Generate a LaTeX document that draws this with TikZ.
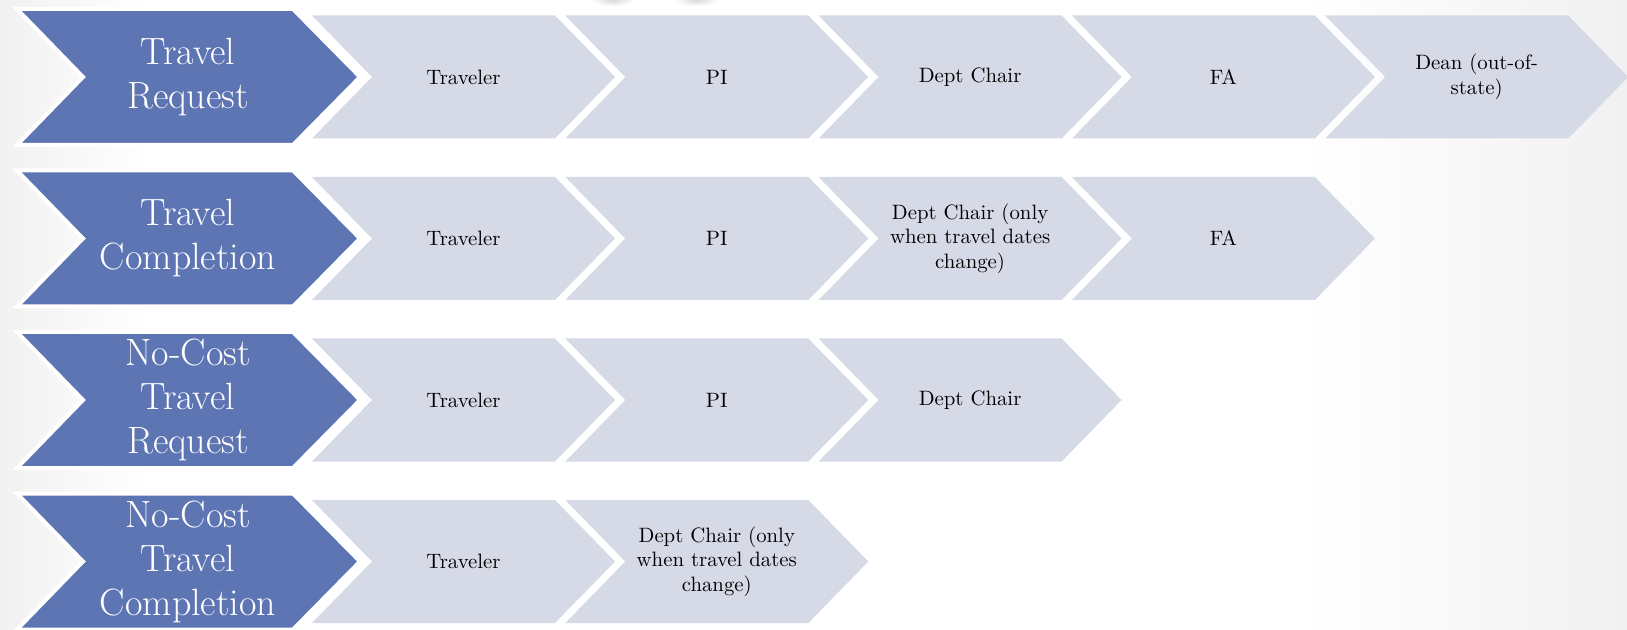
\documentclass[tikz,border=0pt]{standalone}
\definecolor{bluefill}{RGB}{94,117,179}
\definecolor{lightfill}{RGB}{214,218,231}
\definecolor{bggrey}{RGB}{241,241,241}
\newcommand{\stepchevron}[2]{%
  \path[stepchev] (#1,#2-61.5) -- (#1+243,#2-61.5) -- (#1+303,#2) -- (#1+243,#2+61.5) -- (#1,#2+61.5) -- (#1+60,#2) -- cycle;}
\newcommand{\headchevron}[1]{%
  \path[headchev] (17,#1-68) -- (293,#1-68) -- (360,#1) -- (293,#1+68) -- (17,#1+68) -- (83,#1) -- cycle;}
\begin{document}
\begin{tikzpicture}[x=0.5pt,y=-0.5pt,
  headtext/.style={text=white, font=\fontsize{19}{22}\selectfont, align=center, inner sep=0pt},
  steptext/.style={text=black, font=\fontsize{10.4}{12.2}\selectfont, align=center, inner sep=0pt},
  headchev/.style={fill=bluefill, draw=white, line width=2pt, line join=miter},
  stepchev/.style={fill=lightfill, draw=none}]
\useasboundingbox (0,0) rectangle (1627,630);
% background
\fill[white] (0,0) rectangle (1627,630);
\shade[left color=bggrey, right color=white] (0,0) rectangle (150,630);
\shade[left color=white, right color=bggrey] (1300,0) rectangle (1627,630);
\shade[inner color=gray!30, outer color=white] (613,0) ellipse (22 and 6);
\shade[inner color=gray!30, outer color=white] (697,0) ellipse (22 and 6);
% Row 1
\foreach \L in {312,565.3,818.6,1071.9,1325.2} {\stepchevron{\L}{77}}
\headchevron{77}
\node[headtext] (h1) at (188,77) {Travel\\Request};
\node[steptext] (r1a) at (463.5,77) {Traveler};
\node[steptext] (r1b) at (716.8,77) {PI};
\node[steptext] (r1c) at (970.1,77) {Dept Chair};
\node[steptext] (r1d) at (1223.4,77) {FA};
\node[steptext] (r1e) at (1476.7,77) {Dean (out-of-\\state)};
% Row 2
\foreach \L in {312,565.3,818.6,1071.9} {\stepchevron{\L}{238.5}}
\headchevron{238.5}
\node[headtext] (h2) at (188,238.5) {Travel\\Completion};
\node[steptext] (r2a) at (463.5,238.5) {Traveler};
\node[steptext] (r2b) at (716.8,238.5) {PI};
\node[steptext] (r2c) at (970.1,238.5) {Dept Chair (only\\when travel dates\\change)};
\node[steptext] (r2d) at (1223.4,238.5) {FA};
% Row 3
\foreach \L in {312,565.3,818.6} {\stepchevron{\L}{400}}
\headchevron{400}
\node[headtext] (h3) at (188,400) {No-Cost\\Travel\\Request};
\node[steptext] (r3a) at (463.5,400) {Traveler};
\node[steptext] (r3b) at (716.8,400) {PI};
\node[steptext] (r3c) at (970.1,400) {Dept Chair};
% Row 4
\foreach \L in {312,565.3} {\stepchevron{\L}{561.5}}
\headchevron{561.5}
\node[headtext] (h4) at (188,561.5) {No-Cost\\Travel\\Completion};
\node[steptext] (r4a) at (463.5,561.5) {Traveler};
\node[steptext] (r4b) at (716.8,561.5) {Dept Chair (only\\when travel dates\\change)};
\end{tikzpicture}
\end{document}
